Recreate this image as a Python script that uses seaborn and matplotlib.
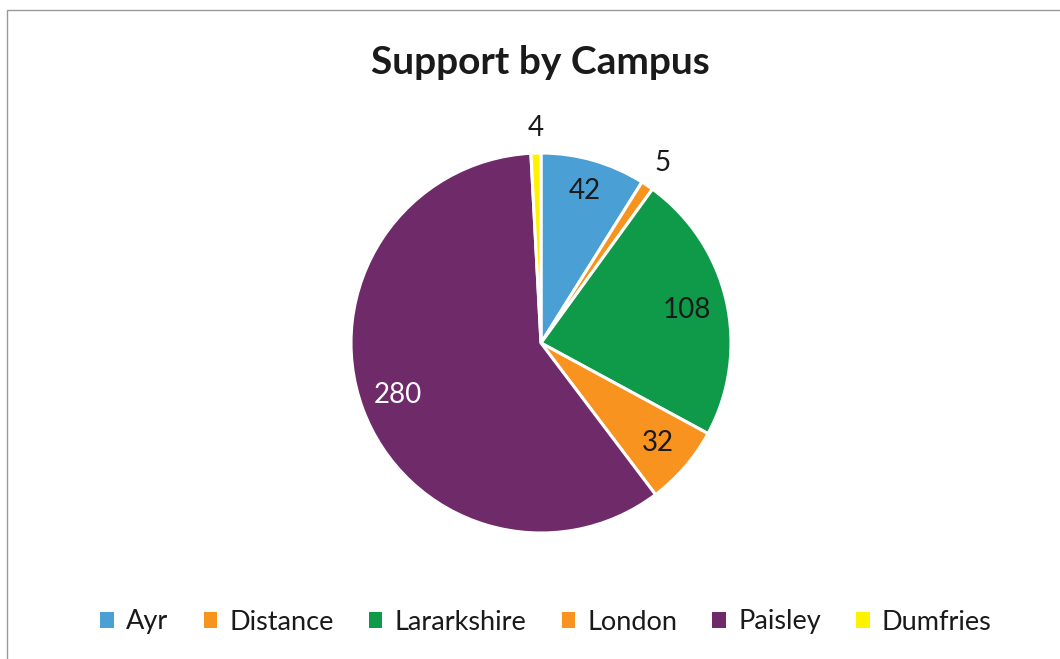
import numpy as np
import matplotlib
matplotlib.use("Agg")
import matplotlib.pyplot as plt
import seaborn as sns
from matplotlib.patches import Patch, Rectangle

campuses = ["Ayr", "Distance", "Lararkshire", "London", "Paisley", "Dumfries"]
counts = [42, 5, 108, 32, 280, 4]
colors = ["#4A9FD5", "#F7941D", "#0E9A48", "#F7931E", "#6F2A6A", "#FFF200"]
label_colors = ["#1a1a1a", "#1a1a1a", "#1a1a1a", "#1a1a1a", "#ffffff", "#1a1a1a"]
label_dist = [0.83, 1.14, 0.79, 0.81, 0.80, 1.13]

sns.set_theme(style="white")
plt.rcParams["font.family"] = ["Lato", "DejaVu Sans"]

W, H = 1060, 659
fig = plt.figure(figsize=(W / 100, H / 100), dpi=100)
fig.patch.set_facecolor("white")

# chart border
fig.add_artist(Rectangle((7 / W, -0.01), 1.02, 1 - 10 / H + 0.01, transform=fig.transFigure,
                         fill=False, edgecolor="#9a9a9a", linewidth=1.0))

cx, cy, r = 541, 343, 190
ax = fig.add_axes([(cx - r) / W, (H - cy - r) / H, 2 * r / W, 2 * r / H])
wedges, _ = ax.pie(counts, colors=colors, startangle=90, counterclock=False,
                   wedgeprops=dict(edgecolor="white", linewidth=2.2))
ax.set_xlim(-1, 1)
ax.set_ylim(-1, 1)
ax.set_aspect("equal")
ax.axis("off")

for w, v, d, c in zip(wedges, counts, label_dist, label_colors):
    ang = np.deg2rad((w.theta1 + w.theta2) / 2)
    ax.text(d * np.cos(ang), d * np.sin(ang), str(v), ha="center", va="center",
            fontsize=20, color=c, clip_on=False)

fig.text(540 / W, 1 - 62 / H, "Support by Campus", ha="center", va="center",
         fontsize=28, fontweight="bold", color="#1a1a1a")

handles = [Patch(facecolor=c, edgecolor="none") for c in colors]
fig.legend(handles, campuses, loc="center", bbox_to_anchor=(546 / W, 1 - 622 / H),
           ncol=6, frameon=False, fontsize=19.5, handlelength=0.5, handleheight=0.5,
           handletextpad=0.45, columnspacing=1.3, labelcolor="#1a1a1a")

fig.savefig("out.png", dpi=100, facecolor="white")
